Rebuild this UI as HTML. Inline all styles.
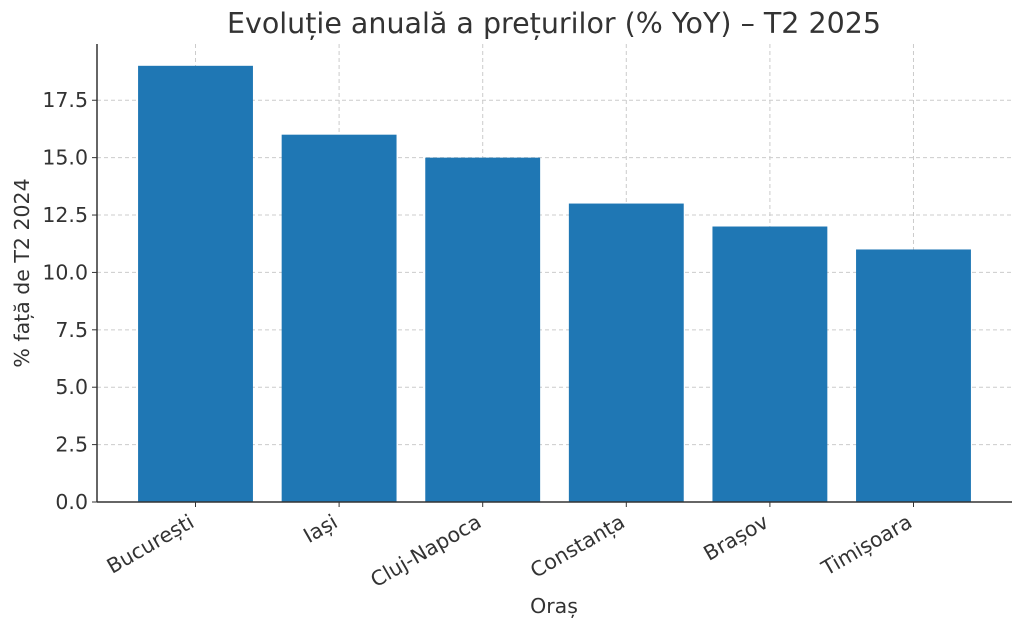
<!DOCTYPE html>
<html><head><meta charset="utf-8"><style>
html,body{margin:0;padding:0;background:#fff;}
svg{display:block;font-family:"DejaVu Sans","Liberation Sans",sans-serif;}
</style></head><body>
<svg id="chart" width="1024" height="624">
<text x="554" y="33" text-anchor="middle" font-size="28.5" fill="#333">Evoluție anuală a prețurilor (% YoY) – T2 2025</text>
<text x="554" y="613" text-anchor="middle" font-size="20.5" fill="#333">Oraș</text>
<text transform="translate(29,273) rotate(-90)" text-anchor="middle" font-size="20.5" fill="#333">% față de T2 2024</text>
<g id="grid"></g><g id="bars"></g><g id="axes"></g>
</svg>
<script>
const categories = ["București","Iași","Cluj-Napoca","Constanța","Brașov","Timișoara"];
const values = [19, 16, 15, 13, 12, 11];
const yTicks = [0, 2.5, 5, 7.5, 10, 12.5, 15, 17.5];
const yTickLabels = ["0.0","2.5","5.0","7.5","10.0","12.5","15.0","17.5"];

const NS = "http://www.w3.org/2000/svg";
const L = 97, R = 1012, B = 502, T = 44, yMax = 19.95;
const step = (R - L) / (categories.length - 1 + 2 * 0.686);
const xc = i => L + 0.686 * step + i * step;
const y = v => B - (v / yMax) * (B - T);
function mk(tag, attrs, parent) { const e = document.createElementNS(NS, tag); for (const k in attrs) e.setAttribute(k, attrs[k]); parent.appendChild(e); return e; }
const grid = document.getElementById("grid"), bars = document.getElementById("bars"), axes = document.getElementById("axes");

yTicks.forEach((t, i) => {
  const g = mk("line", {x1: L, x2: R, y1: y(t), y2: y(t), stroke: "#ccc", "stroke-dasharray": "4,3", "stroke-width": 1}, grid);
  
  
  mk("line", {x1: L - 5, x2: L, y1: y(t), y2: y(t), stroke: "#333"}, axes);
  const lb = mk("text", {x: L - 9, y: y(t) + 7, "text-anchor": "end", "font-size": 20.5, fill: "#333"}, axes);
  lb.textContent = yTickLabels[i];
  
  
});
categories.forEach((c, i) => {
  const g = mk("line", {x1: xc(i), x2: xc(i), y1: T, y2: B, stroke: "#ccc", "stroke-dasharray": "4,3"}, grid);
  
  
  const w = step * 0.8;
  const r = mk("rect", {x: xc(i) - w / 2, y: y(values[i]), width: w, height: B - y(values[i]), fill: "#1f77b4"}, bars);
  
  
  mk("line", {x1: xc(i), x2: xc(i), y1: B, y2: B + 5, stroke: "#333"}, axes);
  const lb = mk("text", {transform: `translate(${xc(i)},${B + 24}) rotate(-30)`, "text-anchor": "end", "font-size": 20.5, fill: "#333"}, axes);
  lb.textContent = c;
  
  
});
const ax1 = mk("line", {x1: L, x2: L, y1: T, y2: B, stroke: "#333", "stroke-width": 1.5}, axes);


const ax2 = mk("line", {x1: L, x2: R, y1: B, y2: B, stroke: "#333", "stroke-width": 1.5}, axes);


</script>
</body></html>
